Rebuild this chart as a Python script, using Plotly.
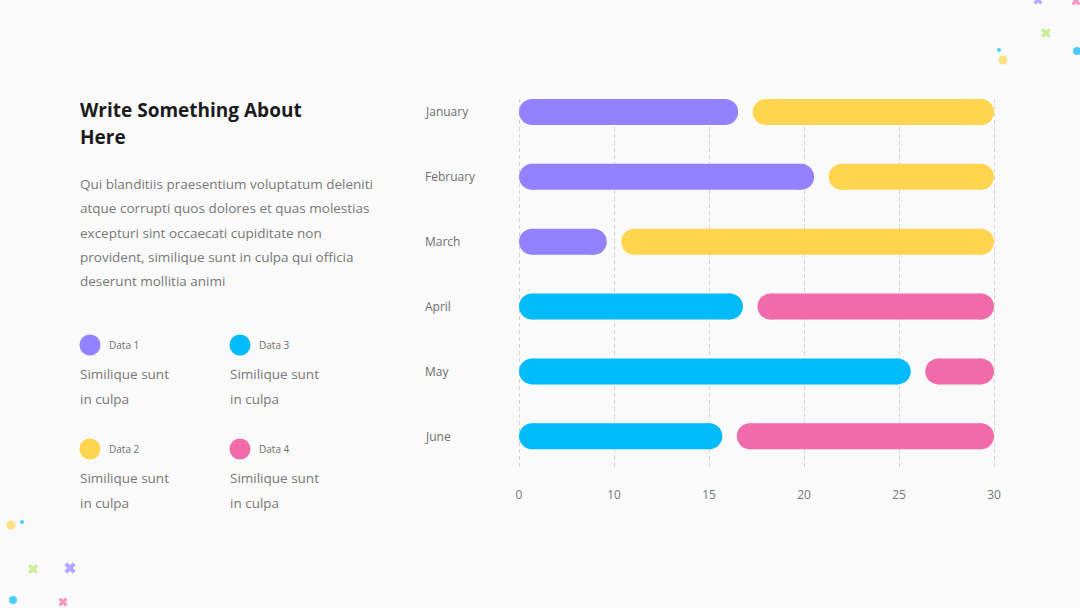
import plotly.graph_objects as go

# ---------------- data ----------------
months = ["January", "February", "March", "April", "May", "June"]
data1 = [14.3, 19.1, 6.0, None, None, None]      # purple
data2 = [15.7, 10.9, 24.0, None, None, None]     # yellow
data3 = [None, None, None, 14.6, 25.2, 13.3]     # cyan
data4 = [None, None, None, 15.4, 4.8, 16.7]      # pink
x_tickvals = [0, 6, 12, 18, 24, 30]
x_ticktext = ["0", "10", "15", "20", "25", "30"]
series_names = ["Data 1", "Data 2", "Data 3", "Data 4"]

# ---------------- style ----------------
W, H = 1080, 608
BG = "#FAFAFA"
C_PURPLE, C_YELLOW, C_CYAN, C_PINK, C_GREEN = "#9381FF", "#FFD54F", "#00BBF9", "#F16BAA", "#B9E974"
FONT = "Open Sans"
PX_X0, PX_X1 = 519, 994      # pixel of value 0 and value 30
PAD_PX = 3                   # keep edge gridlines inside the plot area
PX_Y0, PX_Y1 = 99, 470       # plot area top/bottom in pixels
X_MAX = 30
BAR_PX = 26
GAP_PX = 14.5
UNIT_PER_PX = X_MAX / (PX_X1 - PX_X0)
R = BAR_PX / 2 * UNIT_PER_PX
HALF_GAP = GAP_PX / 2 * UNIT_PER_PX
PAD = PAD_PX * UNIT_PER_PX

fig = go.Figure()


def pill_trace(starts, values, color, name, first):
    xs, ys = [], []
    for m, s, v in zip(months, starts, values):
        if v is None:
            continue
        a = s + (HALF_GAP if not first else 0) + R
        e = s + v - (HALF_GAP if first else 0) - R
        xs += [a, e, None]
        ys += [m, m, None]
    return go.Scatter(
        x=xs, y=ys, mode="lines+markers", name=name, showlegend=False,
        line=dict(color=color, width=BAR_PX), connectgaps=False,
        marker=dict(color=color, size=BAR_PX, line=dict(width=0)),
        cliponaxis=False, hoverinfo="skip")


fig.add_trace(pill_trace([0] * 6, data1, C_PURPLE, "Data 1", True))
fig.add_trace(pill_trace([v if v is not None else 0 for v in data1], data2, C_YELLOW, "Data 2", False))
fig.add_trace(pill_trace([0] * 6, data3, C_CYAN, "Data 3", True))
fig.add_trace(pill_trace([v if v is not None else 0 for v in data3], data4, C_PINK, "Data 4", False))

# ---------------- decorations & legend dots (full-page pixel axes) ----------------
dots_x = [999, 1003, 1077, 11, 22, 13]
dots_y = [50, 60, 51, 525, 522, 600]
dots_s = [4, 9, 8, 9, 4, 8]
dots_c = [C_CYAN, C_YELLOW, C_CYAN, C_YELLOW, C_CYAN, C_CYAN]
fig.add_trace(go.Scatter(x=dots_x, y=dots_y, mode="markers", xaxis="x2", yaxis="y2",
                         marker=dict(size=dots_s, color=dots_c, line=dict(width=0)),
                         showlegend=False, hoverinfo="skip", cliponaxis=False))
cross_x = [1038, 1076, 1046, 33, 70, 63]
cross_y = [0, 1, 33, 569, 568, 602]
cross_s = [8, 8, 9, 9, 10, 8]
cross_c = [C_PURPLE, C_PINK, C_GREEN, C_GREEN, C_PURPLE, C_PINK]
fig.add_trace(go.Scatter(x=cross_x, y=cross_y, mode="markers", xaxis="x2", yaxis="y2",
                         marker=dict(symbol="x", size=cross_s, color=cross_c, line=dict(width=0)),
                         showlegend=False, hoverinfo="skip", cliponaxis=False))

leg_x = [90, 90, 240, 240]
leg_y = [345, 449, 345, 449]
leg_c = [C_PURPLE, C_YELLOW, C_CYAN, C_PINK]
fig.add_trace(go.Scatter(x=leg_x, y=leg_y, mode="markers", xaxis="x2", yaxis="y2",
                         marker=dict(size=21, color=leg_c, line=dict(width=0)),
                         showlegend=False, hoverinfo="skip", cliponaxis=False))

annotations = []


def txt(x, y, text, size, color, bold=False):
    annotations.append(dict(
        x=x / W, y=1 - y / H, xref="paper", yref="paper", xanchor="left", yanchor="middle",
        text=f"<b>{text}</b>" if bold else text, showarrow=False, align="left",
        font=dict(family=FONT, size=size, color=color)))


txt(78, 110, "Write Something About", 19, "#1B1B1B", bold=True)
txt(78, 137, "Here", 19, "#1B1B1B", bold=True)
body = ["Qui blanditiis praesentium voluptatum deleniti",
        "atque corrupti quos dolores et quas molestias",
        "excepturi sint occaecati cupiditate non",
        "provident, similique sunt in culpa qui officia",
        "deserunt mollitia animi"]
for i, line in enumerate(body):
    txt(78, 184 + 24.3 * i, line, 13.5, "#777777")

for name, lx, ly in zip(series_names, leg_x, leg_y):
    txt(lx + 17, ly, name, 10, "#6E6E6E")
    txt(lx - 12, ly + 29, "Similique sunt", 13.5, "#777777")
    txt(lx - 12, ly + 54, "in culpa", 13.5, "#777777")

for m in months:
    annotations.append(dict(x=423 / W, y=m, xref="paper", yref="y", xanchor="left",
                            yanchor="middle", text=m, showarrow=False,
                            font=dict(family=FONT, size=12, color="#6E6E6E")))

fig.update_layout(
    width=W, height=H, margin=dict(l=0, r=0, t=0, b=0, autoexpand=False),
    paper_bgcolor=BG, plot_bgcolor="rgba(0,0,0,0)", showlegend=False,
    xaxis=dict(domain=[(PX_X0 - PAD_PX) / W, (PX_X1 + PAD_PX) / W], range=[-PAD, X_MAX + PAD],
               tickvals=x_tickvals, automargin=False,
               ticktext=x_ticktext, showgrid=True, gridcolor="#D6D6D6", gridwidth=1,
               griddash="4px,3px", zeroline=False, showline=False, ticks="outside",
               ticklen=14, tickcolor="rgba(0,0,0,0)",
               tickfont=dict(family=FONT, size=12, color="#777777"), fixedrange=True),
    yaxis=dict(domain=[1 - PX_Y1 / H, 1 - PX_Y0 / H], type="category", automargin=False,
               categoryarray=months, range=[5.52, -0.2], showgrid=False, zeroline=False,
               showticklabels=False, showline=False, fixedrange=True),
    xaxis2=dict(domain=[0, 1], range=[0, W], visible=False, anchor="y2", fixedrange=True),
    yaxis2=dict(domain=[0, 1], range=[H, 0], visible=False, anchor="x2", fixedrange=True),
    annotations=annotations,
)

fig.write_html("out.html")
